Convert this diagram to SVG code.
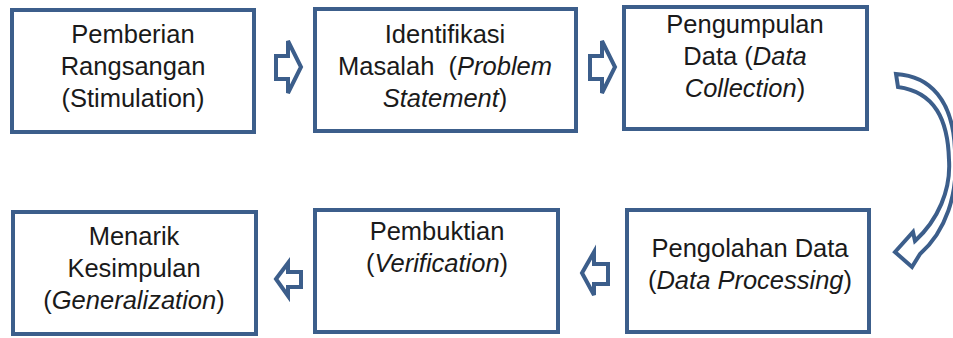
<svg xmlns="http://www.w3.org/2000/svg" width="953" height="338" viewBox="0 0 953 338">
<style>
.box{fill:#ffffff;stroke:#3c5e8b;stroke-width:4}
.arr{fill:#ffffff;stroke:#3c5e8b;stroke-width:4;stroke-linejoin:miter}
text{font-family:"Liberation Sans",Arial,sans-serif;font-size:25.5px;fill:#1a1a1a;text-anchor:middle}
.i{font-style:italic}
</style>
<rect width="953" height="338" fill="#ffffff"/>
<g id="connectors">
<path class="arr" d="M276,56 L288,56 L288,41 L301,67 L288,93 L288,79 L276,79 Z"/>
<path class="arr" d="M590,56 L602,56 L602,41 L615,67 L602,93 L602,79 L590,79 Z"/>
<path class="arr" d="M896,74 C930,76 953,100 955,150 C959,195 945,232 920,254 L912,267 L895,252 L913,232 L915,241 C938,220 951,190 949,160 C948,120 935,92 898,87 Z"/>
<path class="arr" d="M582,273 L594,252 L594,264 L608,264 L608,284 L594,284 L594,295 Z"/>
<path class="arr" d="M276,279 L288,263 L288,272 L301,272 L301,287 L288,287 L288,296 Z"/>
</g>
<g id="n1"><rect class="box" x="12" y="10" width="242" height="122"/>
<text x="133" y="43">Pemberian</text><text x="133" y="75">Rangsangan</text><text x="133" y="107">(Stimulation)</text></g>
<g id="n2"><rect class="box" x="315" y="9" width="261" height="122"/>
<text x="445" y="43">Identifikasi</text><text x="445" y="75" xml:space="preserve">Masalah  (<tspan class="i">Problem</tspan></text><text x="445" y="107"><tspan class="i">Statement</tspan>)</text></g>
<g id="n3"><rect class="box" x="624" y="7" width="243" height="122"/>
<text x="745" y="33">Pengumpulan</text><text x="745" y="65">Data (<tspan class="i">Data</tspan></text><text x="745" y="97"><tspan class="i">Collection</tspan>)</text></g>
<g id="n4"><rect class="box" x="13" y="212" width="243" height="122"/>
<text x="134" y="245">Menarik</text><text x="134" y="277">Kesimpulan</text><text x="134" y="309">(<tspan class="i">Generalization</tspan>)</text></g>
<g id="n5"><rect class="box" x="315" y="210" width="243" height="122"/>
<text x="437" y="240">Pembuktian</text><text x="437" y="272">(<tspan class="i">Verification</tspan>)</text></g>
<g id="n6"><rect class="box" x="627" y="210" width="242" height="122"/>
<text x="750" y="257">Pengolahan Data</text><text x="750" y="289">(<tspan class="i">Data Processing</tspan>)</text></g>
</svg>
